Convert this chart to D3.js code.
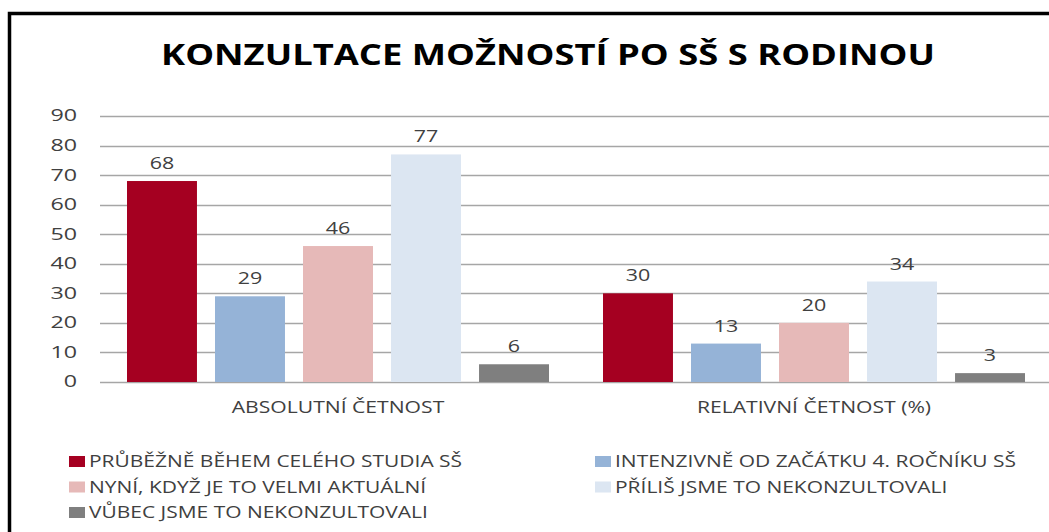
<!DOCTYPE html>
<html>
<head>
    <meta charset="utf-8">
    <title>Konzultace možností po SŠ s rodinou</title>
    <script src="https://d3js.org/d3.v7.min.js"></script>
    <style>
        body { margin: 0; background: #fff; }
        text { font-family: "Open Sans", sans-serif; fill: #404040; }
        .title { font-weight: bold; fill: #000; }
        .grid line { stroke: #a6a6a6; stroke-width: 1.3px; }
    </style>
</head>
<body>
    <script>
        var categories = ["ABSOLUTNÍ ČETNOST", "RELATIVNÍ ČETNOST (%)"];
        var seriesNames = [
            "PRŮBĚŽNĚ BĚHEM CELÉHO STUDIA SŠ",
            "INTENZIVNĚ OD ZAČÁTKU 4. ROČNÍKU SŠ",
            "NYNÍ, KDYŽ JE TO VELMI AKTUÁLNÍ",
            "PŘÍLIŠ JSME TO NEKONZULTOVALI",
            "VŮBEC JSME TO NEKONZULTOVALI"
        ];
        var absolutni = [68, 29, 46, 77, 6];
        var relativni = [30, 13, 20, 34, 3];
        var yTicks = [0, 10, 20, 30, 40, 50, 60, 70, 80, 90];
        var colors = ["#a50021", "#95b3d7", "#e6b9b8", "#dce6f2", "#7f7f7f"];

        var values = [absolutni, relativni];

        var width = 1049, height = 532;
        var plot = { left: 100, right: 1052, top: 116, bottom: 382 };

        var svg = d3.select("body").append("svg")
            .attr("width", width)
            .attr("height", height);

        // frame (only top and left edges fit in the picture)
        svg.append("path")
            .attr("d", "M9.5," + height + "V13.5H" + width)
            .attr("fill", "none")
            .attr("stroke", "#000")
            .attr("stroke-width", 3.5);

        // stretch text horizontally the way the original picture is
        function stretch(sel, k) {
            sel.each(function() {
                var w = this.getComputedTextLength();
                d3.select(this).attr("textLength", w * k).attr("lengthAdjust", "spacingAndGlyphs");
            });
        }

        svg.append("text")
            .attr("class", "title")
            .attr("x", 548)
            .attr("y", 65)
            .attr("text-anchor", "middle")
            .style("font-size", "28px")
            .text("KONZULTACE MOŽNOSTÍ PO SŠ S RODINOU")
            .attr("textLength", 774)
            .attr("lengthAdjust", "spacingAndGlyphs");

        var y = d3.scaleLinear().domain([0, 90]).range([plot.bottom, plot.top]);
        var x0 = d3.scaleBand().domain(categories).range([plot.left, plot.right]);
        var x1 = d3.scaleBand().domain(d3.range(seriesNames.length))
            .range([27, x0.bandwidth() - 27])
            .paddingInner(0.205)
            .paddingOuter(0);

        var grid = svg.append("g").attr("class", "grid");
        grid.selectAll("line").data(yTicks).enter().append("line")
            .attr("x1", plot.left).attr("x2", width)
            .attr("y1", function(d) { return Math.round(y(d)) + 0.5; })
            .attr("y2", function(d) { return Math.round(y(d)) + 0.5; });

        svg.append("g").selectAll("text").data(yTicks).enter().append("text")
            .attr("x", 77)
            .attr("y", function(d) { return y(d); })
            .attr("dy", "0.35em")
            .attr("text-anchor", "end")
            .style("font-size", "15.5px")
            .text(function(d) { return d; })
            .call(stretch, 1.5);

        var groups = svg.append("g").selectAll("g").data(categories).enter().append("g")
            .attr("transform", function(d) { return "translate(" + x0(d) + ",0)"; });

        groups.selectAll("rect")
            .data(function(d, i) { return values[i]; })
            .enter().append("rect")
            .attr("x", function(d, i) { return x1(i); })
            .attr("width", x1.bandwidth())
            .attr("y", function(d) { return y(d); })
            .attr("height", function(d) { return y(0) - y(d); })
            .attr("fill", function(d, i) { return colors[i]; });

        groups.selectAll("text.val")
            .data(function(d, i) { return values[i]; })
            .enter().append("text")
            .attr("class", "val")
            .attr("x", function(d, i) { return x1(i) + x1.bandwidth() / 2; })
            .attr("y", function(d) { return y(d) - 12; })
            .attr("text-anchor", "middle")
            .style("font-size", "16.5px")
            .text(function(d) { return d; })
            .call(stretch, 1.3);

        svg.append("g").selectAll("text").data(categories).enter().append("text")
            .attr("x", function(d) { return x0(d) + x0.bandwidth() / 2; })
            .attr("y", 413)
            .attr("text-anchor", "middle")
            .style("font-size", "16.5px")
            .text(function(d) { return d; })
            .call(stretch, 1.28);

        // legend: two columns, filled row by row
        var legend = svg.append("g").selectAll("g").data(seriesNames).enter().append("g")
            .attr("transform", function(d, i) {
                return "translate(" + (i % 2 ? 595 : 69) + "," + (456 + Math.floor(i / 2) * 25.5) + ")";
            });
        legend.append("rect")
            .attr("width", 16).attr("height", 11)
            .attr("fill", function(d, i) { return colors[i]; });
        legend.append("text")
            .attr("x", 20)
            .attr("y", 11)
            .style("font-size", "16.5px")
            .text(function(d) { return d; })
            .call(stretch, 1.27);
    </script>
</body>
</html>
